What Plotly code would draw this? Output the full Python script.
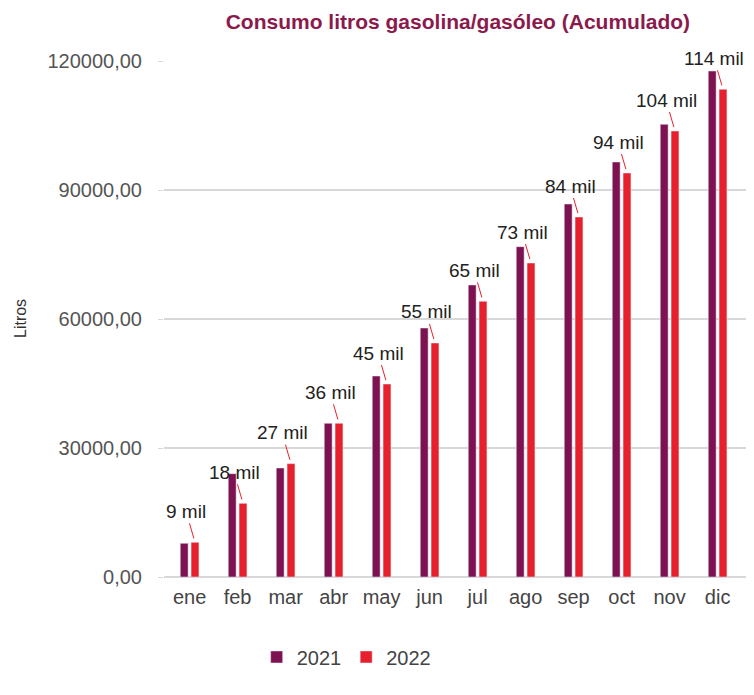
import plotly.graph_objects as go

meses = ["ene", "feb", "mar", "abr", "may", "jun", "jul", "ago", "sep", "oct", "nov", "dic"]
litros_2021 = [7840, 24030, 25350, 35740, 46740, 57900, 67910, 76820, 86740, 96510, 105270, 117670]
litros_2022 = [8070, 17130, 26360, 35740, 44880, 54420, 64110, 73020, 83720, 93950, 103720, 113420]
etiquetas_2022 = ["9 mil", "18 mil", "27 mil", "36 mil", "45 mil", "55 mil", "65 mil", "73 mil",
                  "84 mil", "94 mil", "104 mil", "114 mil"]
y_ticks = [0, 30000, 60000, 90000, 120000]

C2021 = "#7e1250"
C2022 = "#e8202e"
BARGAP = 0.55
FONT = "Liberation Sans, Arial, Helvetica"

fig = go.Figure()
fig.add_trace(go.Bar(name="2021", x=meses, y=litros_2021, marker_color=C2021))
fig.add_trace(go.Bar(name="2022", x=meses, y=litros_2022, marker_color=C2022))

slot = (1 - BARGAP) / 2
for i, (v, t) in enumerate(zip(litros_2022, etiquetas_2022)):
    fig.add_annotation(
        x=i + slot / 2, y=v, xref="x", yref="y", text=t,
        showarrow=True, arrowhead=0, arrowwidth=1, arrowcolor=C2022,
        ax=-9, ay=-31, standoff=4,
        font=dict(family=FONT, size=19, color="#222222"),
    )

fig.add_annotation(
    text="Litros", xref="paper", yref="paper", x=0, y=0.5,
    xanchor="center", yanchor="middle", xshift=-144,
    showarrow=False, textangle=-90,
    font=dict(family=FONT, size=16, color="#333333"),
)

fig.update_layout(
    width=738, height=679,
    margin=dict(l=156, r=0, t=53, b=110),
    paper_bgcolor="white", plot_bgcolor="white",
    barmode="group", bargap=BARGAP, bargroupgap=0.27,
    separators=",.",
    title=dict(
        text="<b>Consumo litros gasolina/gasóleo (Acumulado)</b>",
        x=0.505, xref="paper", xanchor="center",
        y=1 - 14 / 679, yref="container", yanchor="middle",
        font=dict(family=FONT, size=21, color="#8b1a4c"),
    ),
    legend=dict(
        orientation="h", x=0.313, xanchor="center", y=-0.155, yanchor="middle",
        font=dict(family=FONT, size=20, color="#444444"),
    ),
    font=dict(family=FONT),
)
fig.update_yaxes(
    range=[0, 120000], tickvals=y_ticks, tickformat=".2f",
    showgrid=True, gridcolor="#d8d8d8", gridwidth=2,
    zeroline=True, zerolinecolor="#d8d8d8", zerolinewidth=2,
    ticks="outside", ticklen=5, tickcolor="#d8d8d8",
    ticklabelstandoff=12,
    tickfont=dict(family=FONT, size=20, color="#555555"),
    showline=False,
)
fig.update_xaxes(
    showgrid=False, showline=False, ticks="",
    ticklabelstandoff=6,
    tickfont=dict(family=FONT, size=20, color="#444444"),
)

fig.write_html("out.html")
